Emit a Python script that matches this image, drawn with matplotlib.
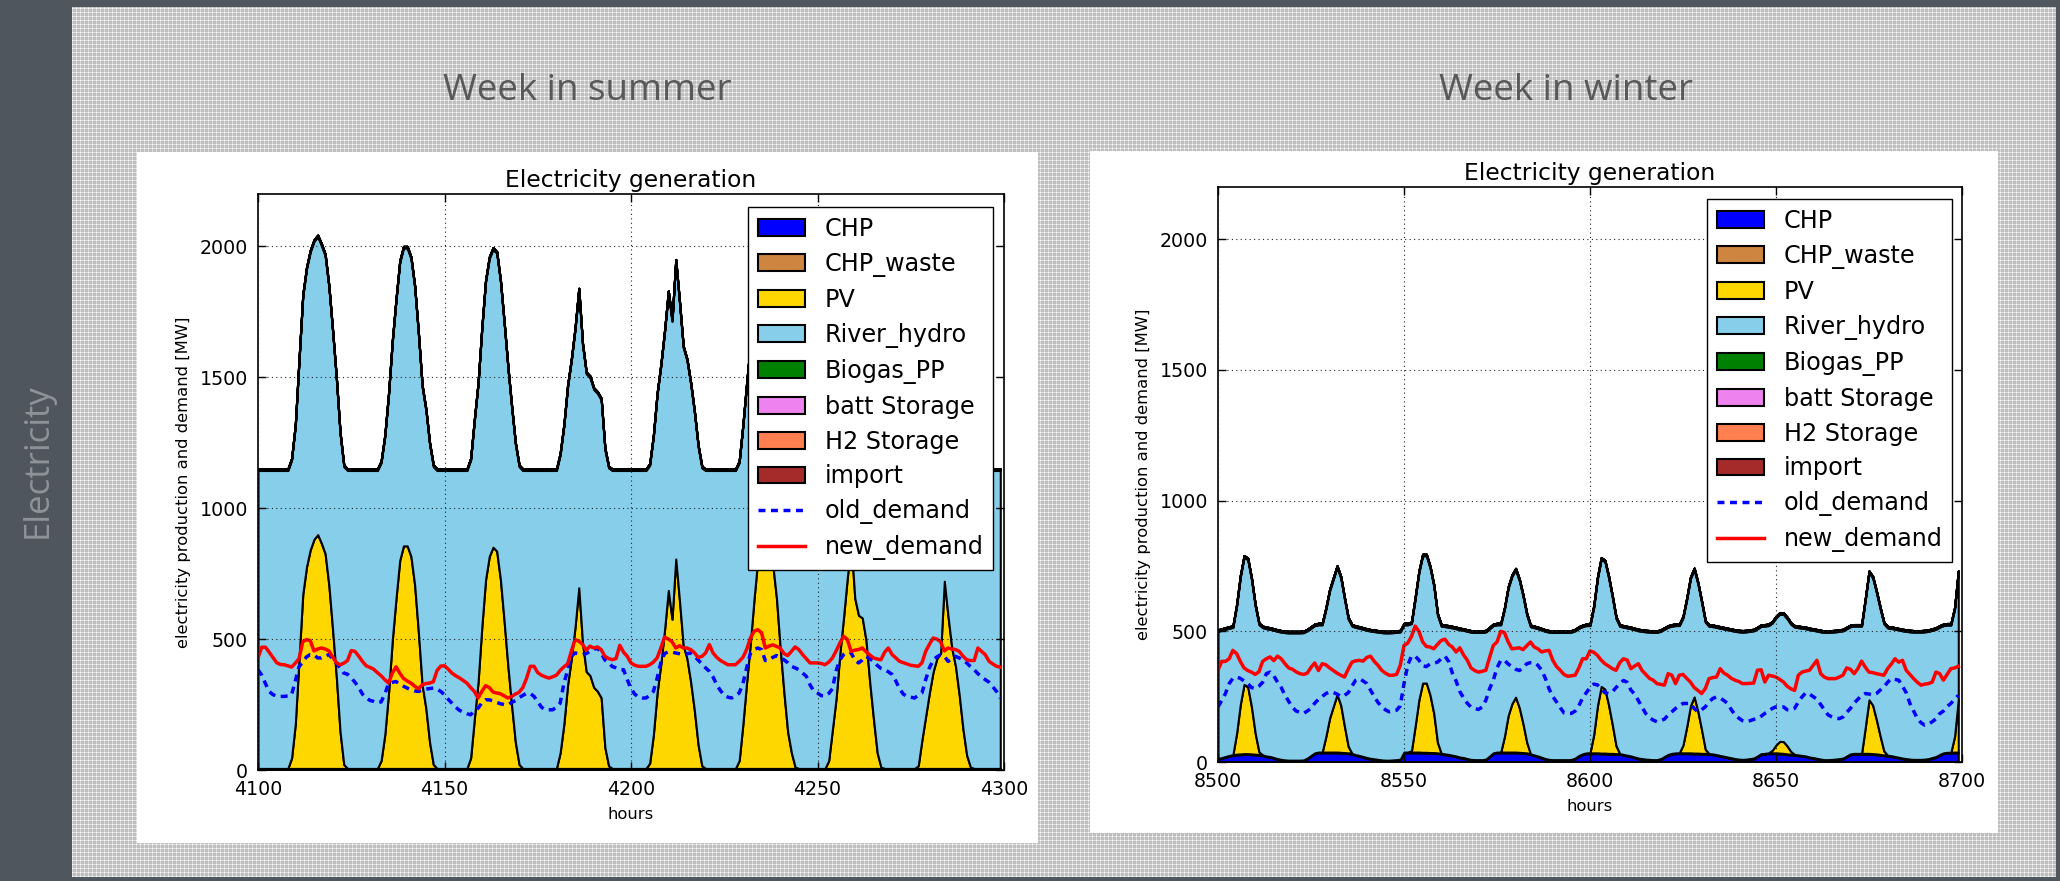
import numpy as np
import matplotlib
matplotlib.use("Agg")
import matplotlib.pyplot as plt
from matplotlib.patches import Rectangle

# ---------------- data ----------------
summer_hours = list(range(4100, 4300))
winter_hours = list(range(8500, 8700))

layer_labels = ["CHP", "CHP_waste", "PV", "River_hydro", "Biogas_PP",
                "batt Storage", "H2 Storage", "import"]
layer_colors = ["#0000ff", "#cd853f", "#ffd700", "#87ceeb", "#008000",
                "#ee82ee", "#ff7f50", "#a52a2a"]

# summer week (MW)
summer_chp = [3] * 200
summer_chp_waste = [3] * 200
summer_hydro = [1138] * 200
summer_biogas = [6] * 200
summer_batt = [0] * 200
summer_h2 = [0] * 200
summer_import = [0] * 200
summer_pv = [
    0, 0, 0, 0, 0, 0, 0, 0, 0, 40,
    170, 420, 665, 770, 835, 875, 893, 860, 820, 700,
    530, 350, 140, 15, 0, 0, 0, 0, 0, 0,
    0, 0, 0, 30, 130, 290, 490, 650, 795, 850,
    850, 810, 700, 520, 320, 230, 100, 15, 0, 0,
    0, 0, 0, 0, 0, 0, 0, 40, 190, 330,
    540, 720, 810, 845, 830, 720, 560, 390, 240, 100,
    15, 0, 0, 0, 0, 0, 0, 0, 0, 0,
    0, 60, 170, 320, 420, 540, 690, 480, 370, 355,
    310, 295, 270, 80, 10, 0, 0, 0, 0, 0,
    0, 0, 0, 0, 0, 20, 130, 290, 400, 530,
    680, 570, 800, 640, 470, 420, 330, 220, 90, 10,
    0, 0, 0, 0, 0, 0, 0, 0, 0, 30,
    170, 330, 480, 650, 800, 930, 960, 900, 780, 650,
    460, 290, 140, 60, 5, 0, 0, 0, 0, 0,
    0, 0, 0, 30, 150, 270, 440, 580, 730, 860,
    650, 585, 575, 490, 330, 190, 60, 5, 0, 0,
    0, 0, 0, 0, 0, 0, 0, 10, 110, 200,
    290, 370, 420, 440, 715, 580, 460, 390, 280, 150,
    50, 5, 0, 0, 0, 0, 0, 0, 0, 0]
summer_new_demand = [
    428, 469, 469, 450, 430, 410, 403, 402, 398, 393,
    408, 425, 490, 498, 494, 455, 462, 466, 462, 455,
    432, 410, 402, 408, 418, 456, 453, 435, 415, 398,
    392, 385, 372, 360, 345, 332, 370, 394, 370, 350,
    340, 332, 320, 310, 325, 330, 332, 337, 380, 397,
    398, 385, 370, 360, 352, 342, 332, 315, 300, 275,
    300, 322, 315, 298, 294, 291, 283, 275, 281, 290,
    297, 315, 350, 396, 396, 372, 362, 356, 351, 356,
    362, 380, 394, 405, 453, 498, 492, 480, 458, 473,
    466, 470, 460, 434, 426, 421, 426, 476, 450, 434,
    409, 400, 396, 396, 396, 402, 412, 428, 466, 508,
    500, 490, 466, 475, 466, 466, 460, 448, 430, 434,
    447, 479, 447, 430, 418, 410, 402, 402, 402, 415,
    430, 460, 504, 530, 536, 524, 466, 473, 478, 472,
    466, 445, 437, 453, 470, 460, 441, 425, 409, 409,
    409, 407, 402, 412, 428, 455, 485, 511, 498, 453,
    458, 460, 466, 452, 440, 428, 424, 421, 450, 466,
    441, 428, 415, 410, 405, 400, 398, 396, 409, 453,
    480, 504, 500, 490, 455, 466, 462, 460, 453, 435,
    421, 418, 418, 466, 453, 440, 415, 405, 396, 393]
summer_old_demand = [
    383, 362, 330, 300, 288, 282, 281, 281, 283, 287,
    340, 395, 412, 432, 441, 440, 428, 428, 434, 441,
    425, 409, 390, 370, 366, 352, 335, 315, 290, 275,
    266, 262, 256, 260, 290, 330, 335, 338, 328, 320,
    313, 306, 302, 300, 305, 309, 311, 313, 309, 300,
    287, 270, 255, 240, 228, 221, 215, 211, 225, 236,
    256, 268, 268, 264, 258, 253, 250, 249, 258, 265,
    276, 285, 293, 292, 281, 260, 240, 230, 230, 230,
    240, 255, 330, 380, 434, 447, 444, 441, 445, 453,
    460, 466, 447, 420, 409, 395, 390, 384, 383, 345,
    310, 290, 278, 275, 275, 285, 300, 350, 410, 445,
    451, 450, 447, 444, 441, 444, 447, 435, 420, 405,
    390, 377, 355, 325, 303, 285, 278, 275, 283, 294,
    330, 390, 445, 460, 466, 460, 418, 420, 430, 437,
    430, 421, 410, 396, 390, 383, 370, 358, 325, 302,
    294, 284, 282, 292, 310, 380, 420, 441, 450, 448,
    420, 409, 420, 434, 425, 415, 400, 388, 383, 375,
    365, 340, 310, 290, 281, 278, 275, 285, 294, 345,
    390, 420, 432, 440, 435, 415, 425, 434, 428, 420,
    409, 395, 383, 368, 355, 345, 335, 318, 300, 275]

# winter week (MW)
winter_chp = [
    10, 14, 18, 22, 25, 27, 28, 29, 29, 28,
    27, 26, 24, 20, 18, 14, 10, 7, 5, 4,
    4, 4, 4, 5, 12, 22, 32, 35, 35, 35,
    35, 35, 35, 34, 33, 32, 30, 25, 22, 18,
    14, 11, 9, 7, 5, 4, 4, 5, 6, 8,
    35, 35, 35, 35, 35, 34, 34, 33, 33, 32,
    30, 28, 26, 23, 20, 16, 14, 10, 7, 6,
    6, 6, 8, 20, 32, 35, 35, 35, 35, 35,
    35, 34, 33, 32, 28, 24, 20, 15, 10, 7,
    6, 6, 6, 6, 6, 7, 12, 22, 28, 32,
    32, 32, 32, 31, 31, 30, 30, 29, 29, 26,
    23, 20, 16, 12, 10, 8, 7, 6, 6, 10,
    18, 26, 30, 32, 32, 32, 32, 32, 31, 31,
    30, 30, 29, 28, 25, 22, 19, 16, 13, 10,
    8, 7, 8, 10, 12, 20, 29, 30, 32, 32,
    32, 31, 30, 28, 27, 26, 24, 22, 20, 16,
    14, 11, 8, 6, 6, 7, 8, 10, 12, 20,
    28, 30, 30, 30, 30, 30, 29, 28, 26, 24,
    23, 21, 18, 15, 12, 10, 8, 7, 7, 7,
    8, 10, 14, 18, 26, 32, 34, 34, 35, 35]
winter_chp_waste = [3] * 200
winter_hydro = [487] * 200
winter_biogas = [6] * 200
winter_batt = [0] * 200
winter_h2 = [0] * 200
winter_import = [0] * 200
winter_pv = [
    0, 0, 0, 0, 0, 80, 190, 265, 255, 180,
    80, 10, 0, 0, 0, 0, 0, 0, 0, 0,
    0, 0, 0, 0, 0, 0, 0, 0, 0, 60,
    130, 175, 220, 180, 100, 25, 0, 0, 0, 0,
    0, 0, 0, 0, 0, 0, 0, 0, 0, 0,
    0, 0, 5, 100, 200, 265, 265, 220, 150, 40,
    0, 0, 0, 0, 0, 0, 0, 0, 0, 0,
    0, 0, 0, 0, 0, 0, 0, 60, 140, 185,
    210, 170, 110, 40, 0, 0, 0, 0, 0, 0,
    0, 0, 0, 0, 0, 0, 0, 0, 0, 0,
    0, 70, 180, 255, 245, 185, 110, 30, 0, 0,
    0, 0, 0, 0, 0, 0, 0, 0, 0, 0,
    0, 0, 0, 0, 0, 30, 100, 180, 215, 160,
    90, 15, 0, 0, 0, 0, 0, 0, 0, 0,
    0, 0, 0, 0, 0, 0, 0, 0, 0, 10,
    30, 45, 45, 30, 10, 0, 0, 0, 0, 0,
    0, 0, 0, 0, 0, 0, 0, 0, 0, 0,
    0, 0, 0, 0, 100, 205, 185, 130, 70, 15,
    0, 0, 0, 0, 0, 0, 0, 0, 0, 0,
    0, 0, 0, 0, 0, 0, 0, 0, 60, 200]
winter_new_demand = [
    351, 385, 385, 395, 427, 415, 385, 360, 350, 344,
    335, 345, 385, 395, 402, 388, 405, 395, 376, 360,
    355, 345, 338, 335, 340, 362, 379, 350, 376, 372,
    360, 350, 340, 332, 325, 355, 382, 387, 389, 386,
    400, 405, 385, 370, 351, 340, 332, 332, 335, 370,
    446, 455, 480, 520, 500, 460, 442, 440, 433, 450,
    465, 470, 450, 440, 421, 437, 410, 390, 360, 350,
    344, 347, 351, 400, 446, 459, 500, 495, 460, 433,
    435, 437, 430, 445, 459, 440, 433, 421, 425, 427,
    389, 365, 351, 335, 328, 330, 332, 360, 395, 395,
    425, 420, 408, 390, 376, 367, 357, 351, 380, 395,
    390, 357, 367, 376, 350, 335, 320, 313, 300, 297,
    294, 338, 332, 300, 332, 335, 320, 306, 285, 274,
    262, 281, 319, 323, 325, 357, 340, 332, 320, 313,
    308, 300, 300, 301, 302, 351, 353, 306, 332, 329,
    325, 316, 306, 290, 280, 274, 332, 344, 348, 351,
    370, 389, 338, 325, 319, 319, 319, 325, 332, 360,
    355, 338, 357, 386, 363, 344, 342, 338, 335, 332,
    357, 375, 395, 382, 389, 351, 335, 319, 305, 294,
    298, 300, 306, 344, 338, 313, 335, 357, 360, 366]
winter_old_demand = [
    211, 235, 262, 300, 320, 325, 320, 310, 300, 285,
    281, 290, 305, 338, 344, 330, 305, 285, 255, 232,
    210, 195, 190, 186, 195, 205, 225, 240, 250, 262,
    268, 266, 260, 250, 255, 265, 290, 313, 319, 310,
    300, 275, 250, 228, 211, 200, 192, 195, 198, 215,
    300, 370, 405, 405, 390, 368, 365, 375, 378, 382,
    395, 405, 385, 340, 310, 270, 245, 225, 210, 205,
    201, 210, 236, 280, 313, 360, 389, 389, 375, 365,
    355, 350, 360, 376, 380, 380, 370, 351, 320, 280,
    250, 230, 208, 188, 186, 186, 195, 215, 245, 265,
    285, 298, 295, 280, 265, 262, 268, 285, 300, 312,
    305, 275, 260, 235, 210, 185, 170, 160, 154, 158,
    164, 180, 192, 205, 215, 224, 224, 224, 205, 192,
    200, 211, 230, 243, 249, 245, 235, 224, 200, 180,
    168, 158, 154, 158, 163, 166, 175, 186, 195, 205,
    211, 211, 211, 200, 200, 205, 230, 249, 265, 260,
    250, 240, 220, 200, 180, 173, 168, 166, 172, 190,
    205, 225, 240, 255, 262, 260, 256, 262, 275, 287,
    305, 319, 316, 313, 290, 265, 224, 195, 166, 150,
    141, 145, 154, 165, 185, 195, 212, 224, 240, 255]

summer_xticks = [4100, 4150, 4200, 4250, 4300]
winter_xticks = [8500, 8550, 8600, 8650, 8700]
yticks = [0, 500, 1000, 1500, 2000]

# ---------------- figure ----------------
plt.rcParams['font.family'] = ['DejaVu Sans']
W, H = 2060, 881
fig = plt.figure(figsize=(W / 100, H / 100), dpi=100)
fig.patch.set_facecolor('#cfcfcf')

# textured slide background
yy, xx = np.mgrid[0:H, 0:W]
tex = np.full((H, W, 3), 0.75)
grid_mask = (yy % 4 == 0) | (xx % 4 == 0)
tex[grid_mask] = 0.86
tex[(yy % 4 == 0) & (xx % 4 == 0)] = 1.0
fig.figimage(tex, xo=0, yo=0, zorder=-5)

dark = '#50565e'
def frect(x0, y0, x1, y1, color, z=-4):
    """rectangle given in pixel coords from top-left"""
    fig.patches.append(Rectangle((x0 / W, 1 - y1 / H), (x1 - x0) / W, (y1 - y0) / H,
                                 transform=fig.transFigure, facecolor=color,
                                 edgecolor='none', zorder=z))

frect(0, 0, 72, H, dark)
frect(0, 0, W, 7, dark)
frect(W - 4, 0, W, H, dark)
frect(0, H - 4, W, H, dark)
# white chart panels
frect(137, 152, 1038, 843, 'white', -3)
frect(1090, 151, 1998, 833, 'white', -3)

fig.text(587 / W, 1 - 91 / H, 'Week in summer', ha='center', va='center',
         fontsize=26.5, color='#595959', family='Open Sans')
fig.text(1566 / W, 1 - 91 / H, 'Week in winter', ha='center', va='center',
         fontsize=26.5, color='#595959', family='Open Sans')
fig.text(38 / W, 1 - 461 / H, 'Electricity', ha='center', va='center', rotation=90,
         fontsize=25, color='#8e939a', family='Open Sans')


def draw(rect, hours, layers, old, new, xticks, leg_anchor, xlab_y, ylab_x):
    ax = fig.add_axes(rect)
    ax.set_zorder(1)
    ax.set_facecolor('white')
    ax.stackplot(hours, *layers, colors=layer_colors, labels=layer_labels,
                 edgecolor='black', linewidth=1.5)
    ax.plot(hours, old, color='blue', lw=2.5, ls=(0, (2.0, 1.6)), label='old_demand')
    ax.plot(hours, new, color='red', lw=2.5, label='new_demand')
    ax.set_xlim(xticks[0], xticks[-1])
    ax.set_ylim(0, 2200)
    ax.set_xticks(xticks)
    ax.set_yticks(yticks)
    ax.set_axisbelow(False)
    ax.grid(True, ls=(0, (1, 3)), color='#222222', lw=0.8)
    ax.tick_params(direction='in', top=True, right=True, length=6, width=1,
                   labelsize=13.7, pad=7)
    for s in ax.spines.values():
        s.set_linewidth(1.2)
    ax.set_title('Electricity generation', fontsize=16.8, pad=5.3)
    ax.set_xlabel('hours', fontsize=11.8)
    ax.set_ylabel('electricity production and demand [MW]', fontsize=11.8)
    ax.xaxis.set_label_coords(0.5, xlab_y)
    ax.yaxis.set_label_coords(ylab_x, 0.5)
    leg = ax.legend(loc='upper right', bbox_to_anchor=leg_anchor, borderaxespad=0,
                    fontsize=17.2, fancybox=False, framealpha=1, edgecolor='black',
                    handlelength=2.0, borderpad=0.4, labelspacing=0.46,
                    handletextpad=0.8)
    leg.get_frame().set_linewidth(1.0)
    return ax


draw([258 / W, 1 - 770 / H, 746 / W, 576 / H], summer_hours,
     [summer_chp, summer_chp_waste, summer_pv, summer_hydro, summer_biogas,
      summer_batt, summer_h2, summer_import],
     summer_old_demand, summer_new_demand, summer_xticks,
     (0.9853, 0.9774), -0.064, -0.090)

draw([1218 / W, 1 - 762 / H, 744 / W, 575 / H], winter_hours,
     [winter_chp, winter_chp_waste, winter_pv, winter_hydro, winter_biogas,
      winter_batt, winter_h2, winter_import],
     winter_old_demand, winter_new_demand, winter_xticks,
     (0.9866, 0.9791), -0.064, -0.090)

fig.savefig('out.png', dpi=100)
